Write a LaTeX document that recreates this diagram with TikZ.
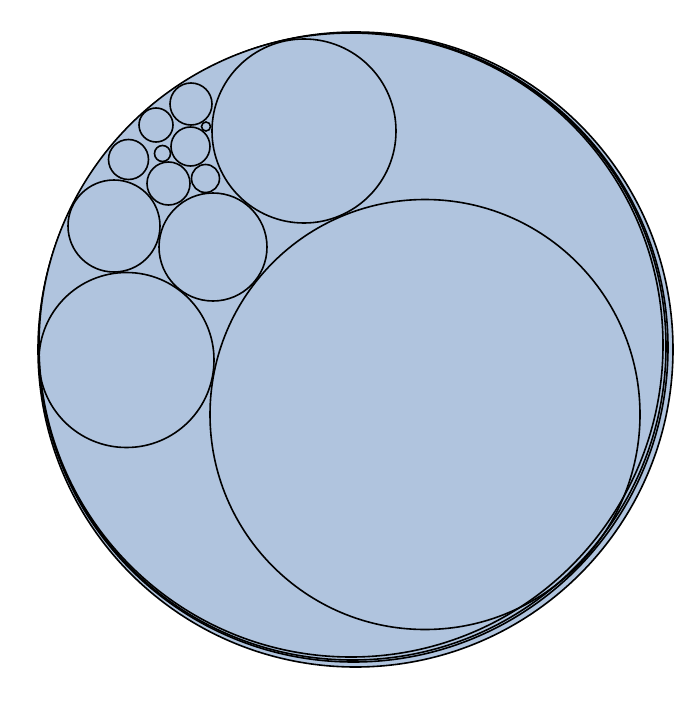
\documentclass[tikz,border=0pt]{standalone}
\usepackage{tikz}
\usepackage{xcolor}
\definecolor{packblue}{RGB}{176,196,222}

\begin{document}
\begin{tikzpicture}[x=1pt,y=-1pt,line width=1.6pt]
    \useasboundingbox (0,0) rectangle (688,706);
    
    % Outer circles
    \foreach \cx/\cy/\r in {355.5/349.5/317.5, 353.5/347.5/314.5, 352.5/346.5/313.5, 351/345/312}
        \draw[fill=packblue] (\cx,\cy) circle (\r);
    
    % Packed circles
    \foreach \cx/\cy/\r in {425/414.5/215, 304/131/92, 126.5/360/87.5, 213/247/54,
                            114/226/46, 128.5/159.5/20, 168.5/183.5/21.5, 205.5/178.5/14,
                            190.5/146.5/19.5, 156/125/17, 191/104/21, 162.5/153.5/8, 206/126.5/4.5}
        \draw (\cx,\cy) circle (\r);
\end{tikzpicture}
\end{document}
